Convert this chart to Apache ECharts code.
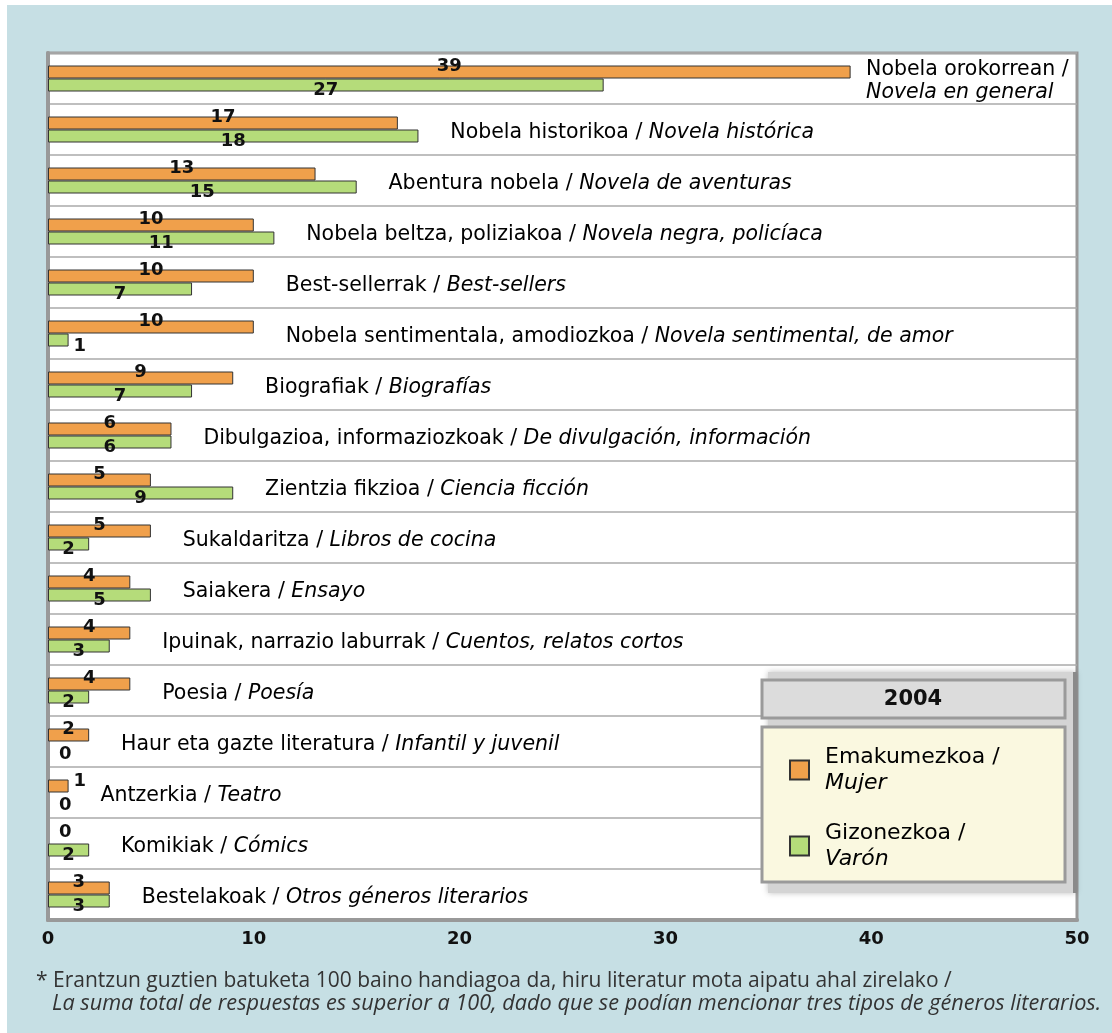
<!DOCTYPE html>
<html>
<head>
<meta charset="utf-8">
<script src="https://cdn.jsdelivr.net/npm/echarts@6/dist/echarts.min.js"></script>
<style>
  html, body { margin: 0; padding: 0; background: #fff; }
  #chart { width: 1112px; height: 1033px; }
</style>
</head>
<body>
<div id="chart"></div>
<script>
// categories (Basque / Spanish)
const catEu = [
  'Nobela orokorrean', 'Nobela historikoa', 'Abentura nobela', 'Nobela beltza, poliziakoa',
  'Best-sellerrak', 'Nobela sentimentala, amodiozkoa', 'Biografiak', 'Dibulgazioa, informaziozkoak',
  'Zientzia fikzioa', 'Sukaldaritza', 'Saiakera', 'Ipuinak, narrazio laburrak', 'Poesia',
  'Haur eta gazte literatura', 'Antzerkia', 'Komikiak', 'Bestelakoak'
];
const catEs = [
  'Novela en general', 'Novela histórica', 'Novela de aventuras', 'Novela negra, policíaca',
  'Best-sellers', 'Novela sentimental, de amor', 'Biografías', 'De divulgación, información',
  'Ciencia ficción', 'Libros de cocina', 'Ensayo', 'Cuentos, relatos cortos', 'Poesía',
  'Infantil y juvenil', 'Teatro', 'Cómics', 'Otros géneros literarios'
];
const mujer = [39, 17, 13, 10, 10, 10, 9, 6, 5, 5, 4, 4, 4, 2, 1, 0, 3];
const varon = [27, 18, 15, 11, 7, 1, 7, 6, 9, 2, 5, 3, 2, 0, 0, 2, 3];
const seriesNames = ['Emakumezkoa / Mujer', 'Gizonezkoa / Varón'];
const yearTitle = '2004';
const footnote1 = '* Erantzun guztien batuketa 100 baino handiagoa da, hiru literatur mota aipatu ahal zirelako /';
const footnote2 = 'La suma total de respuestas es superior a 100, dado que se podían mencionar tres tipos de géneros literarios.';

const FONT = 'DejaVu Sans';
const chart = echarts.init(document.getElementById('chart'));

// small values get their label to the right of the bar
function withLabels(arr, dy) {
  return arr.map(v => v <= 1
    ? {
        value: v,
        itemStyle: v === 0 ? { borderWidth: 0 } : {},
        label: { position: 'right', distance: v === 0 ? 11 : 5, offset: [0, dy] }
      }
    : v);
}

const labelPoints = catEu.map((c, i) => {
  const gap = i === 0 ? 0.75 : 1.55;
  return [Math.max(mujer[i], varon[i]) + gap, c];
});

const valueLabel = {
  show: true, color: '#111', fontFamily: FONT, fontWeight: 'bold', fontSize: 18, lineHeight: 18
};

const option = {
  backgroundColor: '#fff',
  animation: false,
  grid: {
    left: 48, right: 35, top: 53, bottom: 113,
    show: true, backgroundColor: '#fff', borderColor: '#999', borderWidth: 3
  },
  xAxis: {
    type: 'value', min: 0, max: 50, interval: 10,
    splitLine: { show: false },
    axisLine: { show: true, lineStyle: { color: '#999', width: 4 } },
    axisTick: { show: false },
    axisLabel: { color: '#111', fontFamily: FONT, fontWeight: 'bold', fontSize: 18, margin: 10 }
  },
  yAxis: {
    type: 'category', data: catEu, inverse: true,
    axisLine: { show: true, lineStyle: { color: '#999', width: 4 } },
    axisTick: { show: false },
    axisLabel: { show: false },
    splitLine: { show: true, lineStyle: { color: '#aaa', width: 1.5 } }
  },
  legend: {
    data: seriesNames,
    orient: 'vertical', left: 789, top: 746, padding: 0,
    itemWidth: 19, itemHeight: 19, itemGap: 28,
    icon: 'rect', z: 10,
    formatter: name => {
      const p = name.split(' / ');
      return '{b|' + p[0] + ' /}\n{i|' + p[1] + '}';
    },
    textStyle: {
      padding: [0, 0, 0, 11],
      rich: {
        b: { fontFamily: FONT, fontSize: 22, color: '#000', lineHeight: 26 },
        i: { fontFamily: FONT, fontSize: 22, color: '#000', fontStyle: 'italic', lineHeight: 26 }
      }
    }
  },
  graphic: [
    { type: 'rect', z: -10, shape: { x: 7, y: 5, width: 1105, height: 1028 }, style: { fill: '#c6dfe4' } },
    { type: 'rect', z: 5, shape: { x: 768, y: 672, width: 308, height: 221 },
      style: { fill: '#d4d4d4', shadowBlur: 6, shadowColor: 'rgba(0,0,0,0.25)' } },
    { type: 'rect', z: 5, shape: { x: 1073, y: 672, width: 4, height: 221 }, style: { fill: '#8a8a8a' } },
    { type: 'rect', z: 6, shape: { x: 762, y: 680, width: 303, height: 38 },
      style: { fill: '#dcdcdc', stroke: '#9a9a9a', lineWidth: 3 } },
    { type: 'text', z: 7, x: 913, y: 700,
      style: { text: yearTitle, font: 'bold 21px "DejaVu Sans"', fill: '#111', align: 'center', verticalAlign: 'middle' } },
    { type: 'rect', z: 6, shape: { x: 762, y: 727, width: 303, height: 155 },
      style: { fill: '#faf8e0', stroke: '#9a9a9a', lineWidth: 3 } },
    { type: 'text', z: 7, x: 36, y: 981,
      style: { text: footnote1, font: '21px "Open Sans"', fill: '#333', verticalAlign: 'middle' } },
    { type: 'text', z: 7, x: 52, y: 1004,
      style: { text: footnote2, font: 'italic 21.7px "Open Sans"', fill: '#333', verticalAlign: 'middle' } }
  ],
  series: [
    {
      name: seriesNames[0], type: 'bar', data: withLabels(mujer, -5),
      barWidth: 13, barGap: '0%',
      itemStyle: { color: '#f0a04b', borderColor: '#333', borderWidth: 1 },
      label: Object.assign({ position: 'top', distance: -10 }, valueLabel)
    },
    {
      name: seriesNames[1], type: 'bar', data: withLabels(varon, 6),
      barWidth: 13, barGap: '0%',
      itemStyle: { color: '#b5dc7a', borderColor: '#333', borderWidth: 1 },
      label: Object.assign({ position: 'bottom', distance: -10 }, valueLabel)
    },
    {
      type: 'scatter', data: labelPoints, symbolSize: 0, silent: true, z: 3,
      itemStyle: { opacity: 1 },
      label: {
        show: true, position: 'right', distance: 0, offset: [0, 3], color: '#000', opacity: 1,
        formatter: p => {
          const i = p.dataIndex;
          return i === 0
            ? '{b|' + catEu[i] + ' /}\n{i|' + catEs[i] + '}'
            : '{b|' + catEu[i] + ' / }{i|' + catEs[i] + '}';
        },
        rich: {
          b: { fontFamily: FONT, fontSize: 20.5, color: '#000', lineHeight: 23 },
          i: { fontFamily: FONT, fontSize: 20.5, color: '#000', fontStyle: 'italic', lineHeight: 23 }
        }
      }
    }
  ]
};
chart.setOption(option);
</script>
</body>
</html>
